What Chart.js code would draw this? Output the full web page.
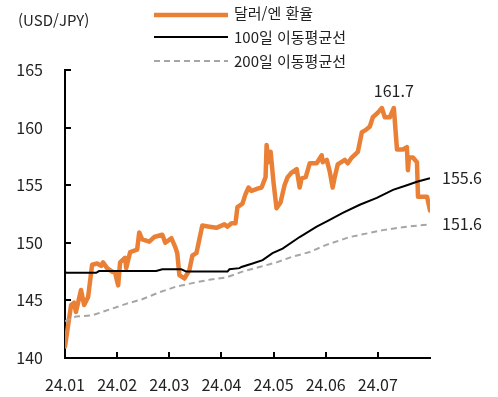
<!DOCTYPE html>
<html lang="ko">
<head>
<meta charset="utf-8">
<title>달러/엔 환율</title>
<script src="https://cdn.jsdelivr.net/npm/chart.js@4.4.1/dist/chart.umd.min.js"></script>
<style>
body{margin:0;background:#fff;}
#wrap{position:relative;width:498px;height:397px;font-family:'Noto Sans CJK KR','Noto Sans',sans-serif;color:#222;}
#c{position:absolute;left:0;top:0;}
.unit{position:absolute;left:18px;top:10px;font-size:15px;line-height:20px;}
.leg{position:absolute;left:154px;height:20px;line-height:20px;font-size:15px;}
.leg svg{position:absolute;left:0;top:0;}
.leg span{position:absolute;left:80px;top:0;white-space:nowrap;}
</style>
</head>
<body>
<div id="wrap">
  <canvas id="c" width="498" height="397"></canvas>
  <div class="unit">(USD/JPY)</div>
  <div class="leg" style="top:4px"><svg width="76" height="20"><line x1="0" y1="11" x2="74" y2="11" stroke="#EA8036" stroke-width="4.5"/></svg><span style="top:-1px">달러/엔 환율</span></div>
  <div class="leg" style="top:27px"><svg width="76" height="20"><line x1="0" y1="10" x2="74" y2="10" stroke="#000" stroke-width="2"/></svg><span>100일 이동평균선</span></div>
  <div class="leg" style="top:51px"><svg width="76" height="20"><line x1="0" y1="10" x2="74" y2="10" stroke="#A6A6A6" stroke-width="2" stroke-dasharray="6 4"/></svg><span>200일 이동평균선</span></div>
</div>
<script>
// 월 눈금 (30일 = 1개월 간격)
var monthLabels = ['24.01','24.02','24.03','24.04','24.05','24.06','24.07'];

// 달러/엔 환율
var rateDay = [0,3.5,5.2,6.3,9.2,11,13.3,15.6,18.5,20.8,21.9,24.2,27.1,28.8,30.6,31.7,34.6,35.2,37.5,41.5,42.7,44.4,48.5,51.3,56,57.7,61.2,63.5,64.6,65.8,68.7,71.5,73.3,75.6,79,83.1,87.1,91.7,93.5,95.8,98.1,99.2,102.1,103.8,105.6,107.3,110.8,113.1,115.4,116,117.1,118.3,120,121.7,124,126.3,128.1,130.4,133.3,135,136.2,138.5,140.8,144.8,147.7,148.3,150.6,152.3,154,155.2,156.9,161,162.7,165,168.5,170.8,173.1,175.4,177.1,180,182.3,184,186.9,189.2,191,194.4,196.7,197.3,197.9,200.2,202.5,203.1,205.4,208.3,210];
var rate = [141.0,144.6,144.8,144.0,145.9,144.6,145.3,148.1,148.2,148.0,148.3,147.8,147.5,147.4,146.3,148.3,148.7,147.8,149.2,149.4,150.9,150.3,150.1,150.5,150.7,150.0,150.4,149.6,149.1,147.2,146.9,147.6,148.9,149.1,151.5,151.4,151.3,151.6,151.4,151.7,151.7,153.1,153.4,154.2,154.8,154.5,154.7,154.8,155.7,158.5,157.0,157.9,155.2,153.0,153.5,155.0,155.7,156.1,156.4,154.8,155.6,155.7,156.9,156.9,157.6,157.0,157.2,156.2,154.8,155.7,156.8,157.2,156.9,157.4,157.9,159.6,159.8,160.1,160.9,161.3,161.7,160.9,160.9,161.7,158.1,158.1,158.3,156.3,157.4,157.4,157.0,154.0,154.0,154.0,152.8];

// 100일 이동평균선
var ma100Day = [0,0.6,17.9,19.6,52.5,56,66.9,69.8,93.5,94.6,100.4,101.5,107.9,113.7,119.4,125.2,135,144.8,151.2,159.8,169.6,179.4,188.7,196.7,202.5,210];
var ma100 = [147.5,147.4,147.4,147.55,147.55,147.7,147.7,147.5,147.5,147.7,147.8,147.9,148.2,148.5,149.1,149.5,150.5,151.4,151.9,152.6,153.3,153.9,154.6,155.0,155.3,155.6];

// 200일 이동평균선
var ma200Day = [0,6.3,15.6,25.4,35.2,44.4,54.2,64,73.3,83.1,92.9,102.1,111.9,121.7,131,140.8,150,163.8,182.9,196.7,210];
var ma200 = [143.2,143.6,143.7,144.2,144.7,145.1,145.7,146.2,146.5,146.8,147.0,147.5,147.9,148.3,148.8,149.2,149.8,150.5,151.1,151.4,151.6];

function pts(xs, ys){
    var out = [];
    for(var i=0; i<xs.length; i++){
        out.push({x: xs[i], y: ys[i]});
    }
    return out;
}

var FONT = "'Noto Sans CJK KR','Noto Sans',sans-serif";

// 축 안쪽으로 들어간 눈금
var innerTicks = {
    id: 'innerTicks',
    afterDraw: function(chart){
        var ctx = chart.ctx, xs = chart.scales.x, ys = chart.scales.y;
        ctx.save();
        ctx.strokeStyle = '#000';
        ctx.lineWidth = 2;
        ctx.beginPath();
        ys.ticks.forEach(function(t){
            var y = Math.round(ys.getPixelForValue(t.value));
            ctx.moveTo(xs.left, y);
            ctx.lineTo(xs.left + 6, y);
        });
        xs.ticks.forEach(function(t){
            if(t.value === 0) return;
            var x = Math.round(xs.getPixelForValue(t.value));
            ctx.moveTo(x, ys.bottom);
            ctx.lineTo(x, ys.bottom - 6);
        });
        ctx.stroke();
        ctx.restore();
    }
};

// 최고치 / 마지막 값 표시
var valueLabels = {
    id: 'valueLabels',
    afterDatasetsDraw: function(chart){
        var ctx = chart.ctx, xs = chart.scales.x, ys = chart.scales.y;
        ctx.save();
        ctx.font = '16px ' + FONT;
        ctx.fillStyle = '#222';
        var iMax = 0;
        for(var i=0; i<rate.length; i++){
            if(rate[i] >= rate[iMax]) iMax = i;
        }
        ctx.textAlign = 'center';
        ctx.textBaseline = 'middle';
        ctx.fillText(rate[iMax].toFixed(1), xs.getPixelForValue(rateDay[iMax]), ys.getPixelForValue(rate[iMax]) - 17);
        ctx.textAlign = 'left';
        var last1 = ma100.length - 1, last2 = ma200.length - 1;
        ctx.fillText(ma100[last1].toFixed(1), xs.getPixelForValue(ma100Day[last1]) + 12, ys.getPixelForValue(ma100[last1]));
        ctx.fillText(ma200[last2].toFixed(1), xs.getPixelForValue(ma200Day[last2]) + 12, ys.getPixelForValue(ma200[last2]));
        ctx.restore();
    }
};

new Chart(document.getElementById('c'), {
    type: 'line',
    data: {
        datasets: [{
            label: '200일 이동평균선',
            data: pts(ma200Day, ma200),
            borderColor: '#A6A6A6',
            borderWidth: 2,
            borderDash: [6,4],
            pointRadius: 0,
            tension: 0
        },{
            label: '100일 이동평균선',
            data: pts(ma100Day, ma100),
            borderColor: '#000',
            borderWidth: 2,
            pointRadius: 0,
            tension: 0
        },{
            label: '달러/엔 환율',
            data: pts(rateDay, rate),
            borderColor: '#EA8036',
            borderWidth: 4.5,
            pointRadius: 0,
            tension: 0,
            borderJoinStyle: 'round',
            borderCapStyle: 'round'
        }]
    },
    options: {
        responsive: false,
        animation: false,
        layout: {padding: {top: 70, right: 68, left: 0, bottom: 0}},
        plugins: {legend: {display: false}, tooltip: {enabled: false}},
        scales: {
            x: {
                type: 'linear',
                min: 0,
                max: 210,
                afterBuildTicks: function(scale){
                    scale.ticks = monthLabels.map(function(m, i){ return {value: i*30}; });
                },
                afterFit: function(scale){ scale.height = 39; },
                grid: {display: false, drawTicks: false},
                border: {display: true, color: '#000', width: 2},
                ticks: {
                    autoSkip: false,
                    maxRotation: 0,
                    padding: 17,
                    color: '#222',
                    font: {family: FONT, size: 16},
                    callback: function(v){ return monthLabels[Math.round(v/30)]; }
                }
            },
            y: {
                min: 140,
                max: 165,
                afterFit: function(scale){ scale.width = 65; },
                grid: {display: false, drawTicks: false},
                border: {display: true, color: '#000', width: 2},
                ticks: {
                    stepSize: 5,
                    padding: 22,
                    color: '#222',
                    font: {family: FONT, size: 16}
                }
            }
        }
    },
    plugins: [innerTicks, valueLabels]
});
</script>
</body>
</html>
